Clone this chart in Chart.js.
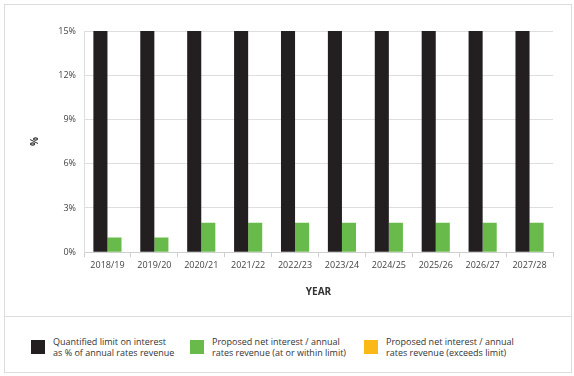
<!DOCTYPE html>
<html lang="en">
<head>
    <meta charset="UTF-8">
    <title>Interest limit vs proposed net interest</title>
    <script src="https://cdn.jsdelivr.net/npm/chart.js"></script>
    <style>
        body {
            margin: 0;
            padding: 0;
            background: #fff;
            font-family: "Open Sans", Arial, sans-serif;
        }
        .frame {
            position: absolute;
            left: 4px;
            top: 4px;
            width: 566px;
            height: 367px;
            border: 1px solid #dcdcdc;
        }
        .chart-box {
            position: relative;
            width: 566px;
            height: 311px;
            border-bottom: 1px solid #dcdcdc;
        }
        .legend {
            position: relative;
            height: 55px;
        }
        .legend-item {
            position: absolute;
            top: 19px;
            display: flex;
            align-items: center;
        }
        .swatch {
            width: 14px;
            height: 14px;
            margin-right: 8px;
        }
        .legend-text {
            font-size: 9px;
            line-height: 11px;
            color: #333;
        }
    </style>
</head>
<body>
    <div class="frame">
        <div class="chart-box">
            <canvas id="rateChart"></canvas>
        </div>
        <div class="legend" id="legend"></div>
    </div>

    <script>
        const years = ["2018/19", "2019/20", "2020/21", "2021/22", "2022/23",
                       "2023/24", "2024/25", "2025/26", "2026/27", "2027/28"];
        const limitPct = [15, 15, 15, 15, 15, 15, 15, 15, 15, 15];
        const withinPct = [1, 1, 2, 2, 2, 2, 2, 2, 2, 2];
        const exceedsPct = [null, null, null, null, null, null, null, null, null, null];
        const yTicks = [0, 3, 6, 9, 12, 15];

        const legendLines = [
            ["Quantified limit on interest", "as % of annual rates revenue"],
            ["Proposed net interest / annual", "rates revenue (at or within limit)"],
            ["Proposed net interest / annual", "rates revenue (exceeds limit)"]
        ];
        const legendLeft = [26, 185, 359];

        Chart.defaults.font.family = '"Open Sans", Arial, sans-serif';
        Chart.defaults.font.size = 9;
        Chart.defaults.color = "#555";

        const datasets = [
            { data: limitPct, backgroundColor: "#231f20" },
            { data: withinPct, backgroundColor: "#68bb4b" },
            { data: exceedsPct, backgroundColor: "#fbb918", grouped: false }
        ];

        const ctx = document.getElementById("rateChart").getContext("2d");
        new Chart(ctx, {
            type: "bar",
            data: { labels: years, datasets: datasets },
            options: {
                responsive: true,
                maintainAspectRatio: false,
                animation: false,
                categoryPercentage: 0.6,
                barPercentage: 1.0,
                layout: { padding: { left: 20, right: 18, top: 26, bottom: 14 } },
                plugins: { legend: { display: false }, tooltip: { enabled: false } },
                scales: {
                    x: {
                        grid: { drawOnChartArea: false, color: "#cfcfcf", tickLength: 5 },
                        border: { color: "#cfcfcf" },
                        ticks: { padding: 3, maxRotation: 0, color: "#444" },
                        title: {
                            display: true, text: "YEAR", color: "#333",
                            font: { size: 10, weight: "bold" },
                            padding: { top: 12 }
                        }
                    },
                    y: {
                        min: 0,
                        max: 15,
                        afterBuildTicks: s => { s.ticks = yTicks.map(v => ({ value: v })); },
                        afterFit: s => { s.width = 59; },
                        grid: { color: "#dedede", drawTicks: false },
                        border: { color: "#dedede" },
                        ticks: { padding: 8, color: "#444", callback: v => v + "%" },
                        title: {
                            display: true, text: "%", color: "#333",
                            font: { size: 10, weight: "bold" }
                        }
                    }
                }
            }
        });

        // legend built from the same dataset colours
        const legend = document.getElementById("legend");
        datasets.forEach((ds, i) => {
            const item = document.createElement("div");
            item.className = "legend-item";
            item.style.left = legendLeft[i] + "px";
            item.innerHTML = '<div class="swatch" style="background:' + ds.backgroundColor + '"></div>' +
                '<div class="legend-text">' + legendLines[i].join("<br>") + '</div>';
            legend.appendChild(item);
        });
    </script>
</body>
</html>
